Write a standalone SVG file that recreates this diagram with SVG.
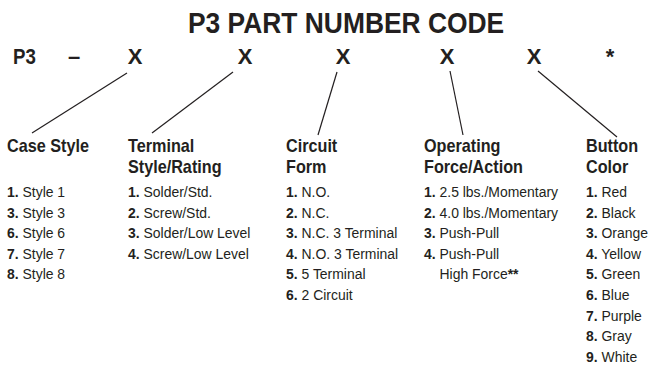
<svg xmlns="http://www.w3.org/2000/svg" width="650" height="371" viewBox="0 0 650 371">
<style>
text{font-family:"Liberation Sans",Arial,sans-serif;fill:#231f20}
.title{font-size:29px;font-weight:bold}
.code{font-size:22px;font-weight:bold}
.head{font-size:18px;font-weight:bold}
.item{font-size:15.5px}
.item tspan.n{font-weight:bold}
.conn line{stroke:#231f20;stroke-width:1.2}
</style>
<rect width="650" height="371" fill="#fff"/>
<g id="title" transform="translate(188,0) scale(0.91,1)">
<text class="title" x="0" y="33">P3 PART NUMBER CODE</text>
</g>
<g id="code">
<text class="code" x="0" y="64" transform="translate(13,0) scale(0.85,1)">P3</text>
<text class="code" x="68" y="64">–</text>
<text class="code" x="135" y="64" text-anchor="middle">X</text>
<text class="code" x="245" y="64" text-anchor="middle">X</text>
<text class="code" x="343" y="64" text-anchor="middle">X</text>
<text class="code" x="447" y="64" text-anchor="middle">X</text>
<text class="code" x="534" y="64" text-anchor="middle">X</text>
<text class="code" x="610" y="64" text-anchor="middle">*</text>
</g>
<g id="connectors" class="conn">
<line x1="127" y1="73" x2="32" y2="133"/>
<line x1="233" y1="72" x2="152" y2="133"/>
<line x1="337" y1="72" x2="318" y2="135"/>
<line x1="450" y1="71" x2="463" y2="135"/>
<line x1="538" y1="71" x2="617" y2="137"/>
</g>
<g id="case-style" transform="translate(7,0) scale(0.9,1)">
<text class="head" x="0" y="152">Case Style</text>
<text class="item" x="0" y="197"><tspan class="n">1.</tspan> Style 1</text>
<text class="item" x="0" y="217.6"><tspan class="n">3.</tspan> Style 3</text>
<text class="item" x="0" y="238.2"><tspan class="n">6.</tspan> Style 6</text>
<text class="item" x="0" y="258.8"><tspan class="n">7.</tspan> Style 7</text>
<text class="item" x="0" y="279.4"><tspan class="n">8.</tspan> Style 8</text>
</g>
<g id="terminal-style" transform="translate(128,0) scale(0.9,1)">
<text class="head" x="0" y="152">Terminal</text>
<text class="head" x="0" y="173">Style/Rating</text>
<text class="item" x="0" y="197"><tspan class="n">1.</tspan> Solder/Std.</text>
<text class="item" x="0" y="217.6"><tspan class="n">2.</tspan> Screw/Std.</text>
<text class="item" x="0" y="238.2"><tspan class="n">3.</tspan> Solder/Low Level</text>
<text class="item" x="0" y="258.8"><tspan class="n">4.</tspan> Screw/Low Level</text>
</g>
<g id="circuit-form" transform="translate(286,0) scale(0.9,1)">
<text class="head" x="0" y="152">Circuit</text>
<text class="head" x="0" y="173">Form</text>
<text class="item" x="0" y="197"><tspan class="n">1.</tspan> N.O.</text>
<text class="item" x="0" y="217.6"><tspan class="n">2.</tspan> N.C.</text>
<text class="item" x="0" y="238.2"><tspan class="n">3.</tspan> N.C. 3 Terminal</text>
<text class="item" x="0" y="258.8"><tspan class="n">4.</tspan> N.O. 3 Terminal</text>
<text class="item" x="0" y="279.4"><tspan class="n">5.</tspan> 5 Terminal</text>
<text class="item" x="0" y="300"><tspan class="n">6.</tspan> 2 Circuit</text>
</g>
<g id="operating-force" transform="translate(424,0) scale(0.9,1)">
<text class="head" x="0" y="152">Operating</text>
<text class="head" x="0" y="173">Force/Action</text>
<text class="item" x="0" y="197"><tspan class="n">1.</tspan> 2.5 lbs./Momentary</text>
<text class="item" x="0" y="217.6"><tspan class="n">2.</tspan> 4.0 lbs./Momentary</text>
<text class="item" x="0" y="238.2"><tspan class="n">3.</tspan> Push-Pull</text>
<text class="item" x="0" y="258.8"><tspan class="n">4.</tspan> Push-Pull</text>
<text class="item" x="17.2" y="279.4">High Force<tspan class="n">**</tspan></text>
</g>
<g id="button-color" transform="translate(586,0) scale(0.9,1)">
<text class="head" x="0" y="152">Button</text>
<text class="head" x="0" y="173">Color</text>
<text class="item" x="0" y="197"><tspan class="n">1.</tspan> Red</text>
<text class="item" x="0" y="217.6"><tspan class="n">2.</tspan> Black</text>
<text class="item" x="0" y="238.2"><tspan class="n">3.</tspan> Orange</text>
<text class="item" x="0" y="258.8"><tspan class="n">4.</tspan> Yellow</text>
<text class="item" x="0" y="279.4"><tspan class="n">5.</tspan> Green</text>
<text class="item" x="0" y="300"><tspan class="n">6.</tspan> Blue</text>
<text class="item" x="0" y="320.6"><tspan class="n">7.</tspan> Purple</text>
<text class="item" x="0" y="341.2"><tspan class="n">8.</tspan> Gray</text>
<text class="item" x="0" y="361.8"><tspan class="n">9.</tspan> White</text>
</g>
</svg>
